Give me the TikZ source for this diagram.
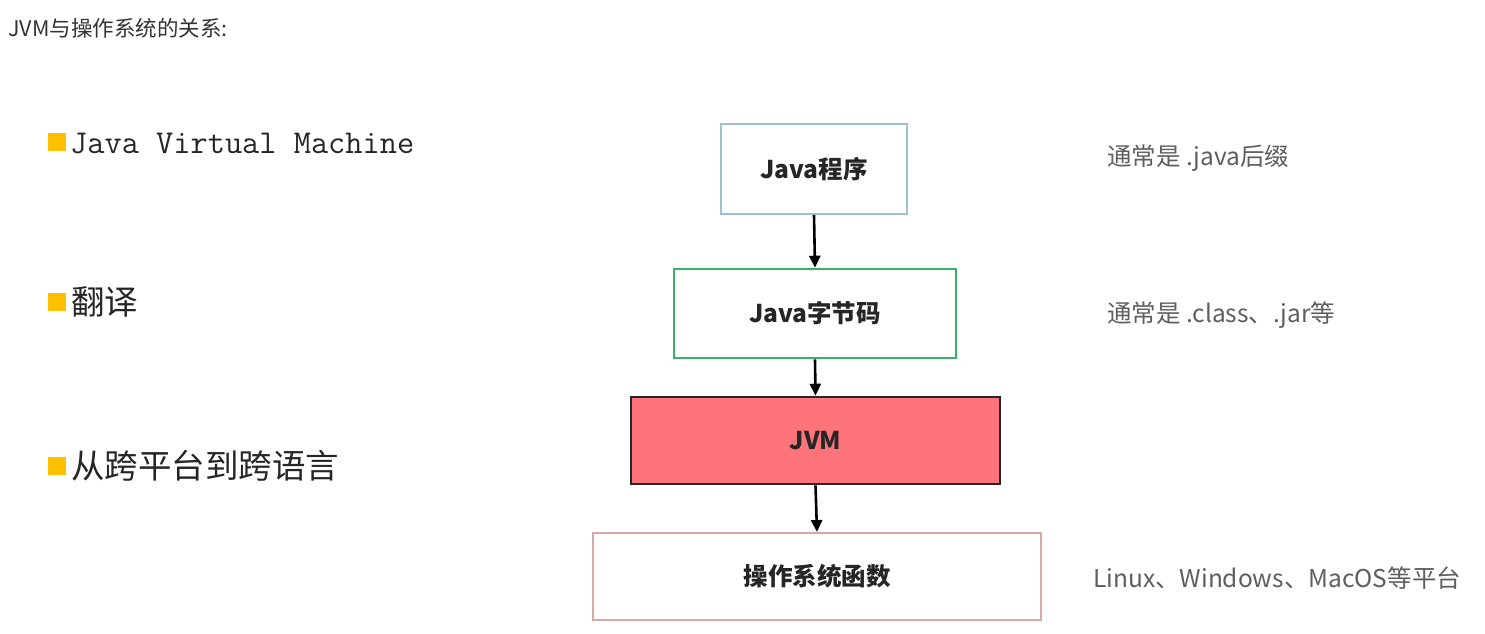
\documentclass[tikz,border=0pt]{standalone}
\usepackage{fontspec}
\setmainfont{Liberation Sans}
\newfontfamily\cjk{Noto Sans CJK SC}
\usetikzlibrary{arrows.meta}
\definecolor{boxblue}{HTML}{9DC0CA}
\definecolor{boxgreen}{HTML}{3DAE6E}
\definecolor{jvmred}{HTML}{FF747A}
\definecolor{boxpink}{HTML}{D6A8A8}
\definecolor{bullet}{HTML}{FFC000}
\definecolor{sidegray}{HTML}{5E5E5E}
\definecolor{titlegray}{HTML}{333333}
\tikzset{
  flowbox/.style={draw, rectangle, inner sep=0pt, font=\cjk\bfseries\fontsize{24.5}{28}\selectfont, text=black!85},
  sidetext/.style={anchor=west, inner sep=0pt, text=sidegray, font=\cjk\fontsize{24.5}{28}\selectfont},
  arr/.style={line width=2.6pt, -{Triangle[length=12pt,width=11pt]}},
  bulletsq/.style={rectangle, fill=bullet, minimum width=18pt, minimum height=18pt, inner sep=0pt},
  leftitem/.style={anchor=west, inner sep=0pt, text=black!85},
}
\begin{document}
\begin{tikzpicture}[x=1pt,y=-1pt]
\useasboundingbox[fill=white] (0,0) rectangle (1485,633);
\node[anchor=west, inner sep=0pt, text=titlegray, font=\cjk\fontsize{21.5}{24}\selectfont] (title) at (8,28) {JVM与操作系统的关系:};

\node[bulletsq] (s1) at (57,142) {};
\node[leftitem, font=\ttfamily\fontsize{33.4}{38}\selectfont] (l1) at (70,143) {Java Virtual Machine};
\node[bulletsq] (s2) at (57,302) {};
\node[leftitem, font=\cjk\fontsize{33.5}{38}\selectfont] (l2) at (71,302) {翻译};
\node[bulletsq] (s3) at (57,466) {};
\node[leftitem, font=\cjk\fontsize{33.5}{38}\selectfont] (l3) at (71,466) {从跨平台到跨语言};

\node[flowbox, draw=boxblue, line width=2pt, minimum width=186pt, minimum height=90pt] (b1) at (814,169) {Java程序};
\node[flowbox, draw=boxgreen, line width=2.6pt, minimum width=282pt, minimum height=89pt] (b2) at (815,313.5) {Java字节码};
\node[flowbox, draw=black!85, fill=jvmred, line width=2.6pt, minimum width=369pt, minimum height=87pt] (b3) at (815.5,440.5) {JVM};
\node[flowbox, draw=boxpink, line width=2pt, minimum width=448pt, minimum height=87pt] (b4) at (817,576.5) {操作系统函数};

\draw[arr] (b1.south) -- (b2.north);
\draw[arr] (b2.south) -- (b3.north);
\draw[arr] (b3.south) -- (b4.north);

\node[sidetext] (t1) at (1107,158) {通常是 .java后缀};
\node[sidetext] (t2) at (1107,315) {通常是 .class、.jar等};
\node[sidetext] (t3) at (1093,578) {Linux、Windows、MacOS等平台};
\end{tikzpicture}
\end{document}
